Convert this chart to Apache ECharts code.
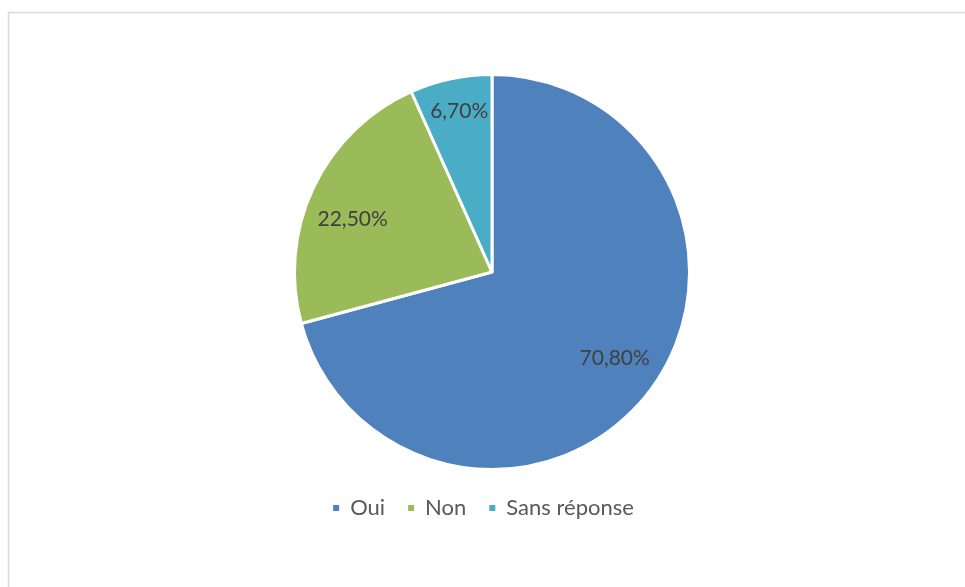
<!DOCTYPE html>
<html>
<head>
<meta charset="utf-8">
<script src="https://cdn.jsdelivr.net/npm/echarts@6/dist/echarts.min.js"></script>
<style>
  html, body { margin: 0; padding: 0; background: #fff; }
  #chart { width: 965px; height: 587px; }
</style>
</head>
<body>
<div id="chart"></div>
<script>
// Réponses au sondage (en %)
const categories = ['Oui', 'Non', 'Sans réponse'];
const values = [70.8, 22.5, 6.7];
const colors = ['#4f81bd', '#9bbb59', '#4bacc6'];

const fmt = v => v.toFixed(2).replace('.', ',') + '%';

const chart = echarts.init(document.getElementById('chart'), null, { renderer: 'canvas' });

const center = [492, 272];
const FONT = 'Lato';

// décalages fins des étiquettes (px)
const labelOffsets = [[2, -6], [-2, 12], [-1, -12]];

chart.setOption({
  animation: false,
  backgroundColor: '#fff',
  graphic: [{
    type: 'rect',
    shape: { x: 8.5, y: 12.5, width: 980, height: 600 },
    style: { fill: 'none', stroke: '#d9d9d9', lineWidth: 1.5 },
    silent: true
  }],
  legend: {
    data: categories,
    left: 'center',
    top: 492,
    icon: 'rect',
    itemWidth: 8,
    itemHeight: 8,
    itemGap: 21,
    textStyle: { fontFamily: FONT, fontSize: 22, color: '#595959', padding: [0, 0, 0, 5] }
  },
  series: [
    {
      name: 'Réponses',
      type: 'pie',
      center: center,
      radius: [0, 197.5],
      startAngle: 90,
      clockwise: true,
      silent: true,
      label: { show: false },
      labelLine: { show: false },
      itemStyle: { borderColor: '#fff', borderWidth: 3 },
      data: categories.map((c, i) => ({ name: c, value: values[i], itemStyle: { color: colors[i] } }))
    },
    {
      // Étiquettes de pourcentage placées à l'intérieur des secteurs
      name: 'Étiquettes',
      type: 'pie',
      center: center,
      radius: [0, 298],
      startAngle: 90,
      clockwise: true,
      silent: true,
      legendHoverLink: false,
      itemStyle: { color: 'rgba(0,0,0,0)' },
      labelLine: { show: false },
      label: {
        show: true,
        position: 'inside',
        fontFamily: FONT,
        fontSize: 21,
        color: '#404040',
        formatter: p => fmt(p.value)
      },
      data: categories.map((c, i) => ({
        name: c,
        value: values[i],
        label: { offset: labelOffsets[i] }
      }))
    }
  ]
});
</script>
</body>
</html>
